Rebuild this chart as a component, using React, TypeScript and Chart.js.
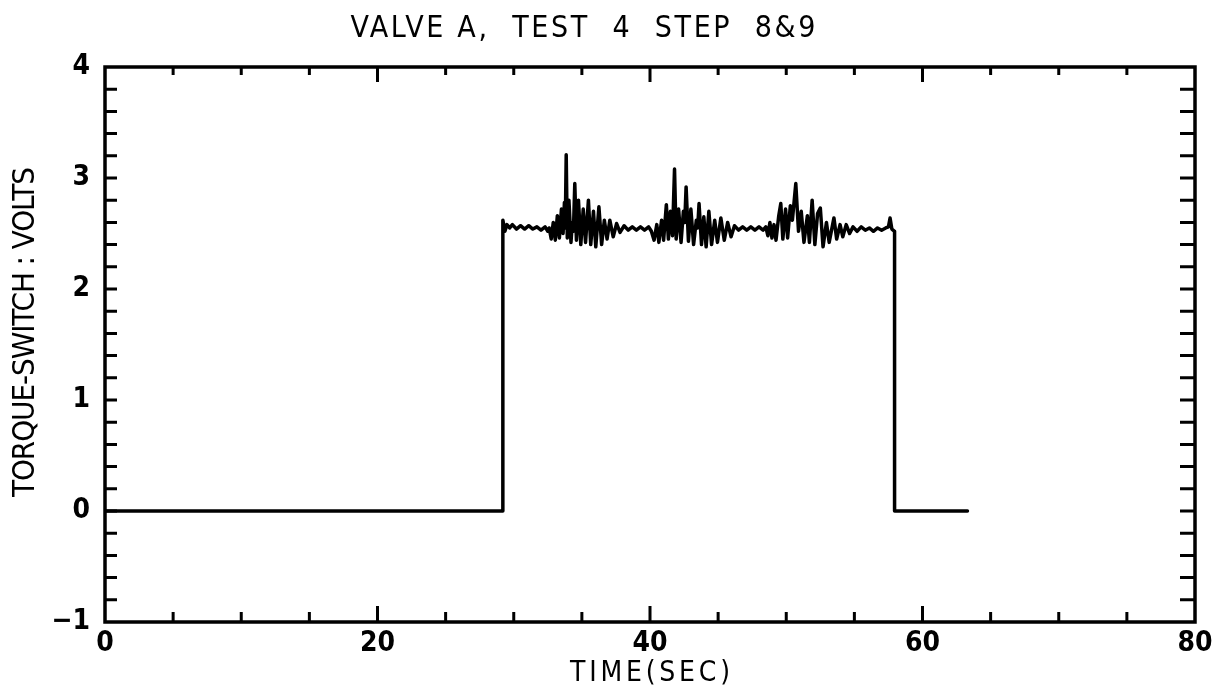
import { useEffect, useRef } from "react";
import { Chart, registerables } from "chart.js";

Chart.register(...registerables);

const TITLE = "VALVE A,  TEST  4  STEP  8&9";
const X_TITLE = "TIME(SEC)";
const Y_TITLE = "TORQUE-SWITCH : VOLTS";
const X_TICKS = [0, 20, 40, 60, 80];
const Y_TICKS = [-1, 0, 1, 2, 3, 4];

const timeSec = [
  0, 29.2, 29.2, 29.35, 29.5, 29.7, 29.9, 30.2, 30.5, 30.8, 31.1, 31.4, 31.7, 32.0, 32.3, 32.5,
  32.6, 32.75, 32.9, 33.05, 33.2, 33.35, 33.5, 33.62, 33.72, 33.78, 33.85, 33.93, 34.05, 34.2, 34.3, 34.38,
  34.48, 34.6, 34.75, 34.92, 35.1, 35.27, 35.48, 35.65, 35.85, 36.02, 36.25, 36.45, 36.65, 36.85, 37.05, 37.3,
  37.55, 37.8, 38.1, 38.4,
  38.7, 39.0, 39.3, 39.6, 39.9, 40.1,
  40.3, 40.5, 40.65, 40.85, 41.0, 41.2, 41.35, 41.5, 41.65, 41.8, 41.92, 42.1, 42.28, 42.45, 42.55, 42.65,
  42.82, 43.0, 43.2, 43.4, 43.5, 43.6, 43.78, 43.95, 44.12, 44.32, 44.52, 44.75, 44.95, 45.2, 45.45, 45.7,
  45.95, 46.2, 46.5,
  46.8, 47.1, 47.4, 47.7, 48.0, 48.3,
  48.5, 48.65, 48.8, 48.95, 49.1, 49.25, 49.45, 49.6, 49.75, 49.95, 50.1, 50.3, 50.45, 50.7, 50.9, 51.1,
  51.3, 51.55, 51.7, 51.9, 52.1, 52.3, 52.5, 52.7, 52.95, 53.15, 53.5, 53.7, 53.95, 54.15, 54.4, 54.65,
  54.9, 55.2,
  55.5, 55.8, 56.1, 56.4, 56.7, 57.0, 57.3, 57.5, 57.62, 57.75, 57.95, 57.95, 63.3,
];

const volts = [
  0, 0, 2.62, 2.52, 2.58, 2.55, 2.58, 2.54, 2.57, 2.54, 2.57, 2.54, 2.56, 2.53, 2.56, 2.52,
  2.55, 2.45, 2.6, 2.44, 2.66, 2.46, 2.72, 2.5, 2.78, 2.55, 3.21, 2.46, 2.8, 2.42, 2.6, 2.52,
  2.95, 2.44, 2.8, 2.4, 2.72, 2.42, 2.8, 2.4, 2.7, 2.38, 2.74, 2.4, 2.62, 2.45, 2.62, 2.47,
  2.59, 2.51, 2.57, 2.53,
  2.56, 2.53, 2.56, 2.53, 2.56, 2.52,
  2.44, 2.58, 2.42, 2.62, 2.44, 2.76, 2.45, 2.7, 2.48, 3.08, 2.45, 2.72, 2.42, 2.7, 2.6, 2.92,
  2.43, 2.72, 2.4, 2.62, 2.55, 2.77, 2.4, 2.65, 2.38, 2.7, 2.4, 2.62, 2.42, 2.64, 2.44, 2.6,
  2.47, 2.57, 2.53,
  2.56, 2.53, 2.56, 2.53, 2.56, 2.53,
  2.56, 2.48, 2.6, 2.46, 2.58, 2.44, 2.66, 2.77, 2.45, 2.72, 2.46, 2.75, 2.62, 2.95, 2.52, 2.7,
  2.42, 2.66, 2.42, 2.8, 2.4, 2.68, 2.73, 2.38, 2.6, 2.42, 2.64, 2.45, 2.58, 2.47, 2.58, 2.5,
  2.56, 2.52,
  2.56, 2.53, 2.55, 2.52, 2.55, 2.53, 2.55, 2.56, 2.64, 2.54, 2.52, 0, 0,
];

const W = 1229;
const H = 691;
const TICK_FAMILY = "DejaVu Sans Condensed, DejaVu Sans";
const TEXT_FONT = '30px "DejaVu Sans Condensed", "DejaVu Sans"';

function fitText(ctx: CanvasRenderingContext2D, text: string, x: number, y: number, width: number) {
  (ctx as any).letterSpacing = "0px";
  const m = ctx.measureText(text).width;
  const n = Math.max(1, text.length - 1);
  const sp = (width - m) / n;
  (ctx as any).letterSpacing = `${sp}px`;
  ctx.textAlign = "left";
  ctx.fillText(text, x - width / 2, y);
  (ctx as any).letterSpacing = "0px";
}

const framePlugin = {
  id: "frame",
  afterDraw(chart: any) {
    const { ctx, chartArea: a, scales } = chart;
    const xs = scales.x;
    const ys = scales.y;
    ctx.save();
    ctx.strokeStyle = "#000";
    ctx.lineWidth = 3.5;
    ctx.strokeRect(a.left, a.top, a.right - a.left, a.bottom - a.top);
    ctx.lineWidth = 3;
    ctx.beginPath();
    for (let v = 5; v < 80; v += 5) {
      const px = xs.getPixelForValue(v);
      const major = v % 20 === 0;
      ctx.moveTo(px, a.bottom);
      ctx.lineTo(px, a.bottom - (major ? 16 : 10));
      ctx.moveTo(px, a.top);
      ctx.lineTo(px, a.top + (major ? 15 : 8));
    }
    for (let i = 1; i < 25; i++) {
      const v = -1 + i * 0.2;
      const py = ys.getPixelForValue(v);
      ctx.moveTo(a.left, py);
      ctx.lineTo(a.left + 12, py);
      ctx.moveTo(a.right, py);
      ctx.lineTo(a.right - 15, py);
    }
    ctx.stroke();

    ctx.fillStyle = "#000";
    ctx.textBaseline = "middle";
    ctx.font = TEXT_FONT;
    fitText(ctx, TITLE, 583, 29, 465);
    ctx.font = '28px "DejaVu Sans Condensed", "DejaVu Sans"';
    fitText(ctx, X_TITLE, 650, 674, 160);
    ctx.font = '31px "DejaVu Sans Condensed", "DejaVu Sans"';
    ctx.save();
    ctx.translate(26, 332);
    ctx.rotate(-Math.PI / 2);
    fitText(ctx, Y_TITLE, 0, 0, 330);
    ctx.restore();
    ctx.restore();
  },
};

export default function App() {
  const ref = useRef<HTMLCanvasElement>(null);
  useEffect(() => {
    if (!ref.current) return;
    const points = timeSec.map((t, i) => ({ x: t, y: volts[i] }));
    const chart = new Chart(ref.current, {
      type: "scatter",
      data: {
        datasets: [
          {
            data: points,
            showLine: true,
            borderColor: "#000",
            borderWidth: 3.5,
            borderJoinStyle: "round",
            borderCapStyle: "round",
            pointRadius: 0,
            tension: 0,
            fill: false,
          },
        ],
      },
      options: {
        animation: false,
        responsive: false,
        devicePixelRatio: 1,
        layout: { padding: { top: 67, right: 34, left: 0, bottom: 0 } },
        plugins: { legend: { display: false }, tooltip: { enabled: false }, title: { display: false } },
        scales: {
          x: {
            type: "linear",
            min: 0,
            max: 80,
            afterBuildTicks: (s: any) => {
              s.ticks = X_TICKS.map((v) => ({ value: v }));
            },
            afterFit: (s: any) => {
              s.height = 69;
            },
            ticks: { color: "#000", font: { family: TICK_FAMILY, size: 28, weight: "bold" }, padding: 5, maxRotation: 0 },
            grid: { display: false, drawTicks: false },
            border: { display: false },
          },
          y: {
            type: "linear",
            min: -1,
            max: 4,
            afterBuildTicks: (s: any) => {
              s.ticks = Y_TICKS.map((v) => ({ value: v }));
            },
            afterFit: (s: any) => {
              s.width = 105;
            },
            ticks: {
              color: "#000",
              font: { family: TICK_FAMILY, size: 28, weight: "bold" },
              padding: 15,
              callback: (v: any) => (Number(v) < 0 ? "\u2212" + Math.abs(Number(v)) : String(v)),
            },
            grid: { display: false, drawTicks: false },
            border: { display: false },
          },
        },
      },
      plugins: [framePlugin],
    });
    return () => chart.destroy();
  }, []);
  return (
    <div style={{ position: "fixed", left: 0, top: 0, width: W, height: H, background: "#fff" }}>
      <canvas ref={ref} width={W} height={H} style={{ width: W, height: H, display: "block" }} />
    </div>
  );
}
